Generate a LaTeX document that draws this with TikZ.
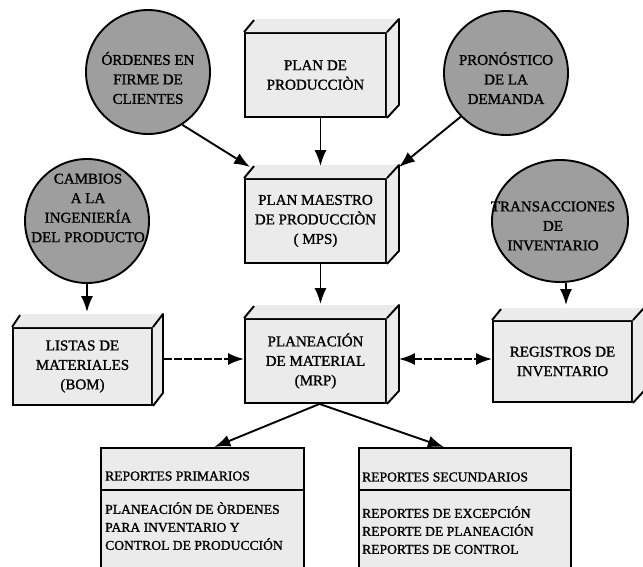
\documentclass[tikz,border=0pt]{standalone}
\usepackage{fontspec}
\setmainfont{Liberation Serif}
\newfontfamily\tinta{Liberation Serif}[FakeBold=1.3]
\usetikzlibrary{arrows.meta,calc,shapes.geometric}

\definecolor{cajafondo}{gray}{0.92}
\definecolor{bolafondo}{gray}{0.62}

\tikzset{
  texto/.style={font=\tinta\fontsize{15}{19.5}\selectfont, align=center, text=black},
  caja/.style={texto, draw=black, line width=1.9pt, fill=cajafondo,
    rectangle, inner sep=2pt},
  bola/.style={draw=black, line width=1.9pt, fill=bolafondo, circle,
    minimum size=124pt, inner sep=0pt},
  bolaancha/.style={draw=black, line width=1.9pt, fill=bolafondo, ellipse,
    minimum width=136pt, minimum height=122pt, inner sep=0pt},
  bolatxt/.style={texto, inner sep=0pt},
  reporte/.style={draw=black, line width=1.7pt, fill=cajafondo, rectangle,
    anchor=north west, minimum width=203pt, minimum height=130pt, inner sep=0pt},
  reptxt/.style={font=\tinta\fontsize{13.6}{18}\selectfont, align=left, anchor=west,
    inner sep=0pt},
  punta/.tip={Latex[length=16pt,width=12pt]},
  flecha/.style={line width=1.9pt, -punta},
  flechados/.style={line width=1.9pt, punta-punta,
    dash pattern=on 8pt off 2pt},
  flechapunt/.style={line width=1.9pt, -punta,
    dash pattern=on 8pt off 2pt},
}

% top face, right face and top-left stub of a box node
\newcommand\caracaja[3]{%
  \fill[cajafondo] (#1.north west) -- ++(#2,-#3) -- ($(#1.north east)+(#2,-#3)$)
    -- (#1.north east) -- cycle;
  \filldraw[fill=cajafondo, draw=black, line width=1.9pt, line join=round]
    (#1.north east) -- ++(#2,-#3) -- ($(#1.south east)+(#2,-#3)$) -- (#1.south east);
  \draw[line width=1.9pt] (#1.north west) -- ++(#2-2,-#3+1);
}

\begin{document}
\begin{tikzpicture}[x=1pt, y=-1pt]
\useasboundingbox (0,0) rectangle (643,566);
\fill[white] (0,0) rectangle (643,566);

% --- boxes -------------------------------------------------------------
\node[caja, minimum width=141pt, minimum height=84pt] (pp) at (315.5,75)
  {PLAN DE\\PRODUCCIÒN};
\node[caja, minimum width=141pt, minimum height=84pt] (mps) at (315.5,221)
  {PLAN MAESTRO\\DE PRODUCCIÒN\\( MPS)};
\node[caja, minimum width=141pt, minimum height=84pt] (mrp) at (315.5,361)
  {PLANEACIÓN\\DE MATERIAL\\(MRP)};
\node[caja, minimum width=139pt, minimum height=77pt] (bom) at (82.5,366.5)
  {LISTAS DE\\MATERIALES\\(BOM)};
\node[caja, minimum width=139pt, minimum height=81pt] (inv) at (562.5,361.5)
  {REGISTROS DE\\INVENTARIO};

\caracaja{pp}{12}{13}
\caracaja{mps}{12}{13}
\caracaja{mrp}{12}{13}
\caracaja{bom}{10}{13}
\caracaja{inv}{11}{12}

% --- circles -------------------------------------------------------------
\node[bola] (ord) at (148,72) {};
\node[bolatxt] (ord-t) at (148,78) {ÓRDENES EN\\FIRME DE\\CLIENTES};
\node[bola] (pro) at (506,73) {};
\node[bolatxt] (pro-t) at (506,78) {PRONÓSTICO\\DE LA\\DEMANDA};
\node[bola] (cam) at (87,221) {};
\node[bolatxt] (cam-t) at (88,208) {CAMBIOS\\A LA\\INGENIERÍA\\DEL PRODUCTO};
\node[bolaancha] (tra) at (560,221) {};
\node[bolatxt] (tra-t) at (553,226) {TRANSACCIONES\\DE\\INVENTARIO};

% --- report boxes --------------------------------------------------------
\node[reporte] (rp) at (100,447) {};
\draw[line width=1.7pt] ($(rp.north west)+(0,43)$) -- ($(rp.north east)+(0,43)$);
\node[reptxt] (rp-h) at (105,476) {REPORTES PRIMARIOS};
\node[reptxt, anchor=north west] (rp-b) at (105,502)
  {PLANEACIÓN DE ÒRDENES\\PARA INVENTARIO Y\\CONTROL DE PRODUCCIÓN};

\node[reporte, minimum width=212pt] (rs) at (358,447) {};
\draw[line width=1.7pt] ($(rs.north west)+(0,43)$) -- ($(rs.north east)+(0,43)$);
\node[reptxt] (rs-h) at (362,477) {REPORTES SECUNDARIOS};
\node[reptxt, anchor=north west] (rs-b) at (362,506)
  {REPORTES DE EXCEPCIÓN\\REPORTE DE PLANEACIÓN\\REPORTES DE CONTROL};

% --- connectors ----------------------------------------------------------
\coordinate (mpsNW) at ($(mps.north west)+(6,-11)$);
\coordinate (mpsNE) at ($(mps.north east)+(12,-11)$);
\coordinate (mpsTop) at ($(mps.north)+(5,-12)$);
\coordinate (mrpTop) at ($(mrp.north)+(5,-14)$);
\coordinate (bomTop) at ($(bom.north)+(0,-15)$);
\coordinate (invTop) at ($(inv.north)+(0,-15)$);

\draw[flecha] (ord.-57) -- (mpsNW);
\draw[flecha] (pro.-136) -- (mpsNE);
\draw[flecha] ($(pp.south)+(5,0)$) -- (mpsTop);
\draw[flecha] ($(mps.south)+(5,0)$) -- (mrpTop);
\draw[flecha] (cam.south) -- (cam.south |- bomTop);
\draw[flecha] ([xshift=6pt]tra.south) -- ([xshift=6pt]tra.south |- invTop);
\draw[flechapunt] ($(bom.east |- mrp.west)+(11,-2)$) -- ($(mrp.west)+(0,-2)$);
\draw[flechados] ($(mrp.east)+(12,-2)$) -- ($(mrp.east -| inv.west)+(0,-2)$);
\draw[flecha] ($(mrp.south)+(4,0)$) -- ($(rp.north)+(12,0)$);
\draw[flecha] ($(mrp.south)+(4,0)$) -- ($(rs.north)+(-21,0)$);
\end{tikzpicture}
\end{document}
